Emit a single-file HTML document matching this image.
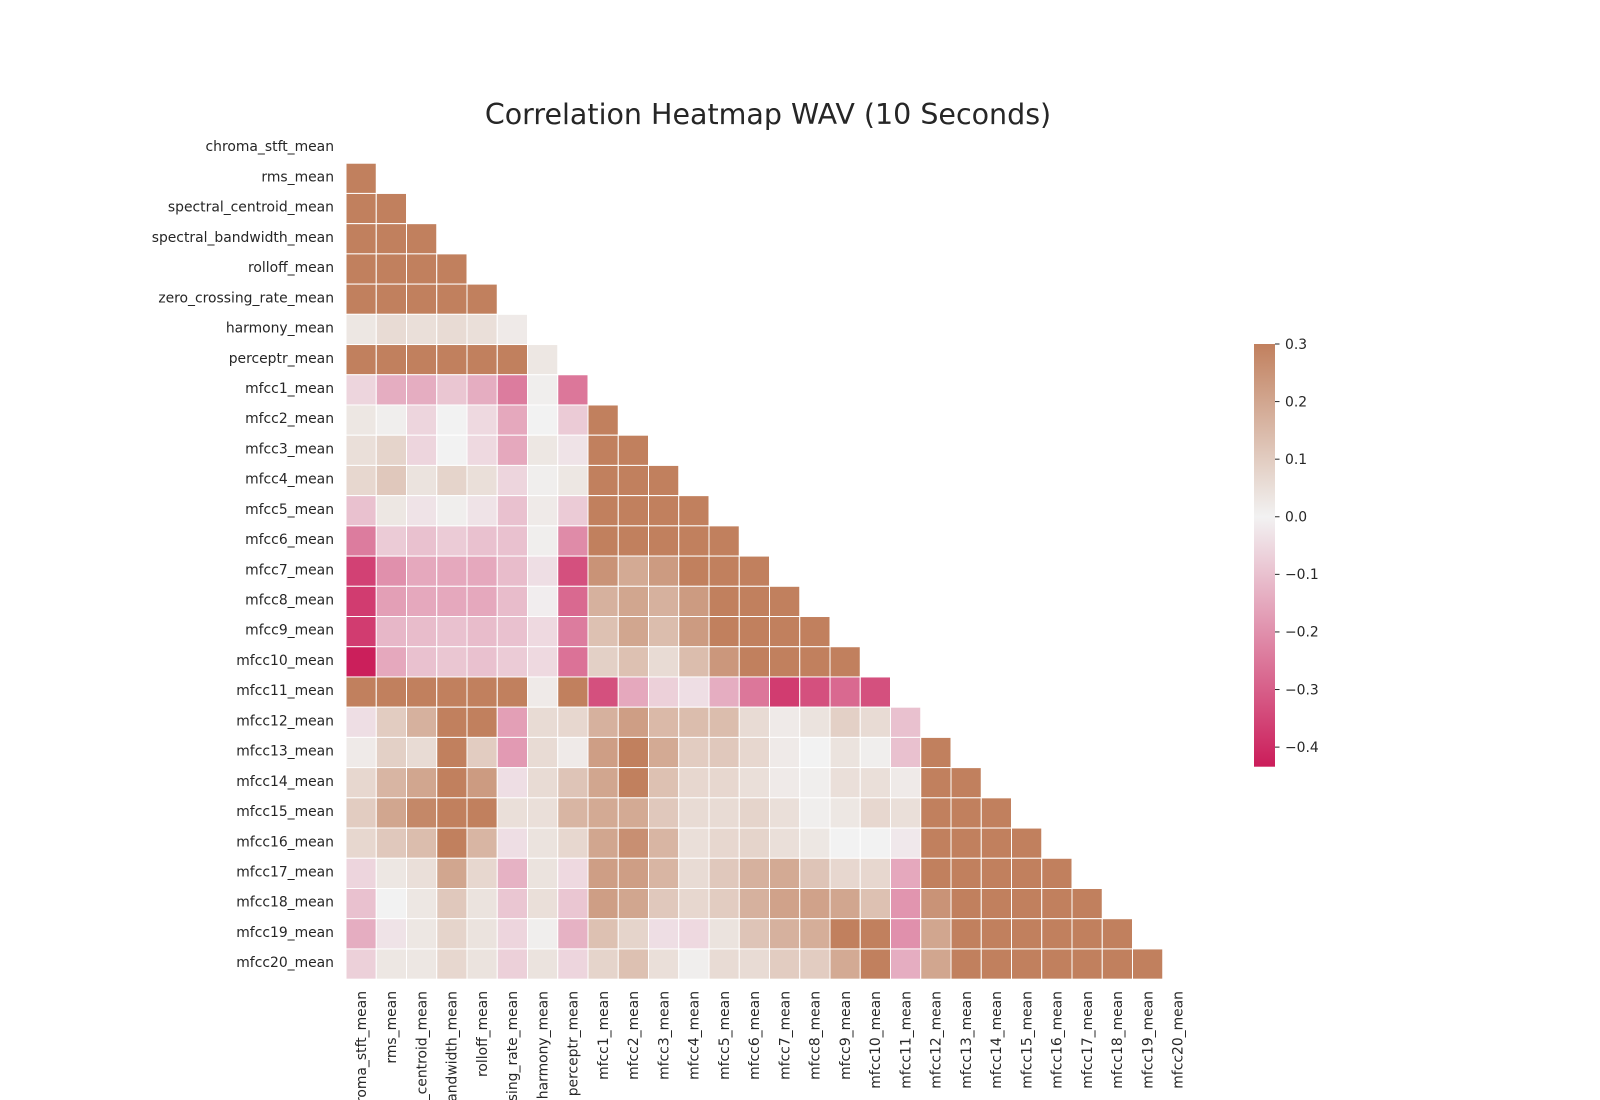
<!DOCTYPE html>
<html><head><meta charset="utf-8"><style>
html,body{margin:0;background:#fff;overflow:hidden;width:1600px;height:1100px}
svg{display:block}
svg text{font-family:"DejaVu Sans","Liberation Sans",sans-serif;fill:#262626}
</style></head><body>
<svg id="chart" width="1600" height="1100" xmlns="http://www.w3.org/2000/svg">
<defs><linearGradient id="cbgrad" x1="0" y1="1" x2="0" y2="0">
<stop offset="0" stop-color="#cb1d5a"/><stop offset="0.591" stop-color="#f2f2f2"/><stop offset="1" stop-color="#c1805e"/>
</linearGradient></defs>
<text x="768" y="124" font-size="28.5" text-anchor="middle">Correlation Heatmap WAV (10 Seconds)</text>
<g id="cells"></g>
<g id="ylabels"></g>
<g id="xlabels"></g>
<rect x="1254" y="344" width="21" height="422.7" fill="url(#cbgrad)"/>
<g id="cbticks"></g>
</svg>
<script>
const labels = ["chroma_stft_mean","rms_mean","spectral_centroid_mean","spectral_bandwidth_mean","rolloff_mean","zero_crossing_rate_mean","harmony_mean","perceptr_mean","mfcc1_mean","mfcc2_mean","mfcc3_mean","mfcc4_mean","mfcc5_mean","mfcc6_mean","mfcc7_mean","mfcc8_mean","mfcc9_mean","mfcc10_mean","mfcc11_mean","mfcc12_mean","mfcc13_mean","mfcc14_mean","mfcc15_mean","mfcc16_mean","mfcc17_mean","mfcc18_mean","mfcc19_mean","mfcc20_mean"];
const row1 = [0.3];
const row2 = [0.3,0.3];
const row3 = [0.3,0.3,0.3];
const row4 = [0.3,0.3,0.3,0.3];
const row5 = [0.3,0.3,0.3,0.3,0.3];
const row6 = [0.03,0.06,0.05,0.06,0.05,0.02];
const row7 = [0.3,0.3,0.3,0.3,0.3,0.3,0.03];
const row8 = [-0.06,-0.14,-0.14,-0.09,-0.14,-0.24,0.01,-0.25];
const row9 = [0.03,0.01,-0.06,0,-0.05,-0.15,0,-0.08,0.3];
const row10 = [0.05,0.08,-0.06,0,-0.05,-0.15,0.03,-0.03,0.3,0.3];
const row11 = [0.07,0.11,0.04,0.08,0.05,-0.06,0.01,0.03,0.3,0.3,0.3];
const row12 = [-0.1,0.03,-0.03,0.01,-0.03,-0.1,0.02,-0.08,0.3,0.3,0.3,0.3];
const row13 = [-0.24,-0.08,-0.1,-0.08,-0.1,-0.1,0.01,-0.21,0.3,0.3,0.3,0.3,0.3];
const row14 = [-0.36,-0.2,-0.15,-0.15,-0.15,-0.11,-0.04,-0.33,0.25,0.19,0.23,0.3,0.3,0.3];
const row15 = [-0.37,-0.17,-0.15,-0.15,-0.15,-0.11,-0.01,-0.28,0.17,0.2,0.17,0.23,0.3,0.3,0.3];
const row16 = [-0.37,-0.12,-0.11,-0.1,-0.11,-0.1,-0.05,-0.24,0.13,0.2,0.14,0.23,0.3,0.3,0.3,0.3];
const row17 = [-0.43,-0.15,-0.1,-0.09,-0.1,-0.08,-0.05,-0.26,0.09,0.13,0.06,0.14,0.24,0.3,0.3,0.3,0.3];
const row18 = [0.3,0.3,0.3,0.3,0.3,0.3,0.02,0.3,-0.33,-0.15,-0.07,-0.04,-0.14,-0.25,-0.37,-0.33,-0.28,-0.33];
const row19 = [-0.04,0.1,0.17,0.3,0.3,-0.17,0.06,0.07,0.17,0.22,0.15,0.14,0.14,0.06,0.02,0.04,0.09,0.06,-0.1];
const row20 = [0.02,0.09,0.06,0.3,0.1,-0.18,0.06,0.02,0.22,0.3,0.19,0.1,0.11,0.07,0.02,0.0,0.04,0.01,-0.1,0.3];
const row21 = [0.07,0.16,0.2,0.3,0.23,-0.04,0.06,0.12,0.2,0.3,0.13,0.07,0.07,0.05,0.02,0.01,0.05,0.05,0.02,0.3,0.3];
const row22 = [0.1,0.2,0.28,0.3,0.3,0.05,0.05,0.16,0.19,0.19,0.11,0.06,0.06,0.08,0.05,0.01,0.03,0.07,0.05,0.3,0.3,0.3];
const row23 = [0.07,0.11,0.14,0.3,0.16,-0.04,0.04,0.07,0.2,0.26,0.16,0.05,0.07,0.08,0.05,0.03,0.0,0.0,-0.02,0.3,0.3,0.3,0.3];
const row24 = [-0.06,0.03,0.05,0.2,0.07,-0.13,0.04,-0.05,0.22,0.22,0.16,0.06,0.11,0.17,0.19,0.12,0.07,0.07,-0.15,0.3,0.3,0.3,0.3,0.3];
const row25 = [-0.1,0.0,0.03,0.11,0.04,-0.09,0.05,-0.09,0.22,0.2,0.11,0.07,0.1,0.17,0.21,0.21,0.2,0.13,-0.19,0.25,0.3,0.3,0.3,0.3,0.3];
const row26 = [-0.14,-0.03,0.03,0.08,0.04,-0.06,0.01,-0.13,0.13,0.08,-0.04,-0.05,0.04,0.12,0.17,0.18,0.3,0.3,-0.2,0.2,0.3,0.3,0.3,0.3,0.3,0.3];
const row27 = [-0.07,0.03,0.03,0.07,0.04,-0.07,0.04,-0.06,0.08,0.13,0.05,0.01,0.06,0.06,0.1,0.1,0.19,0.3,-0.14,0.2,0.3,0.3,0.3,0.3,0.3,0.3,0.3];
const cbTicks = [0.3,0.2,0.1,0.0,-0.1,-0.2,-0.3,-0.4];
const cbTickLabels = ["0.3","0.2","0.1","0.0","\u22120.1","\u22120.2","\u22120.3","\u22120.4"];

const rows=[[],row1,row2,row3,row4,row5,row6,row7,row8,row9,row10,row11,row12,row13,row14,row15,row16,row17,row18,row19,row20,row21,row22,row23,row24,row25,row26,row27];
const NS="http://www.w3.org/2000/svg";
const gridLeft=346, gridTop=133, cw=30.25, ch=30.22, vmin=-0.434, vmax=0.3;
const xPos=c=>gridLeft+c*cw, yPos=r=>gridTop+r*ch;
const cbY=v=>344+(vmax-v)/(vmax-vmin)*422.7;
function color(v){
  v=Math.max(vmin,Math.min(vmax,v));
  const c0=[242,242,242]; const e=v>=0?[193,128,94]:[203,29,90];
  const t=v>=0?v/vmax:v/vmin;
  return 'rgb('+c0.map((a,i)=>Math.round(a+(e[i]-a)*t)).join(',')+')';
}
const gc=document.getElementById('cells');
rows.forEach((row,r)=>row.forEach((v,c)=>{
  const el=document.createElementNS(NS,'rect');
  
  
  el.setAttribute('x',xPos(c)); el.setAttribute('y',yPos(r));
  el.setAttribute('width',cw); el.setAttribute('height',ch);
  el.setAttribute('fill',color(v)); el.setAttribute('stroke','#fff'); el.setAttribute('stroke-width','1');
  gc.appendChild(el);
}));
const gy=document.getElementById('ylabels'), gx=document.getElementById('xlabels');
labels.forEach((l,i)=>{
  const t=document.createElementNS(NS,'text');
  
  
  t.setAttribute('x',334); t.setAttribute('y',yPos(i)+ch/2+3.1);
  t.setAttribute('text-anchor','end'); t.setAttribute('font-size','13.9');
  t.textContent=l; gy.appendChild(t);
  const u=document.createElementNS(NS,'text');
  
  
  const cx=xPos(i)+cw/2+4.8;
  u.setAttribute('transform','translate('+cx+',991) rotate(-90)');
  u.setAttribute('text-anchor','end'); u.setAttribute('font-size','13.9');
  u.textContent=l; gx.appendChild(u);
});
const gt=document.getElementById('cbticks');
cbTicks.forEach((v,i)=>{
  const y=cbY(v);
  const ln=document.createElementNS(NS,'line');
  
  
  ln.setAttribute('x1',1275); ln.setAttribute('x2',1279.5); ln.setAttribute('y1',y); ln.setAttribute('y2',y);
  ln.setAttribute('stroke','#262626'); ln.setAttribute('stroke-width','1');
  gt.appendChild(ln);
  const t=document.createElementNS(NS,'text');
  
  
  t.setAttribute('x',1285); t.setAttribute('y',y+4.8); t.setAttribute('font-size','13.9');
  t.textContent=cbTickLabels[i]; gt.appendChild(t);
});
</script>
</body></html>
